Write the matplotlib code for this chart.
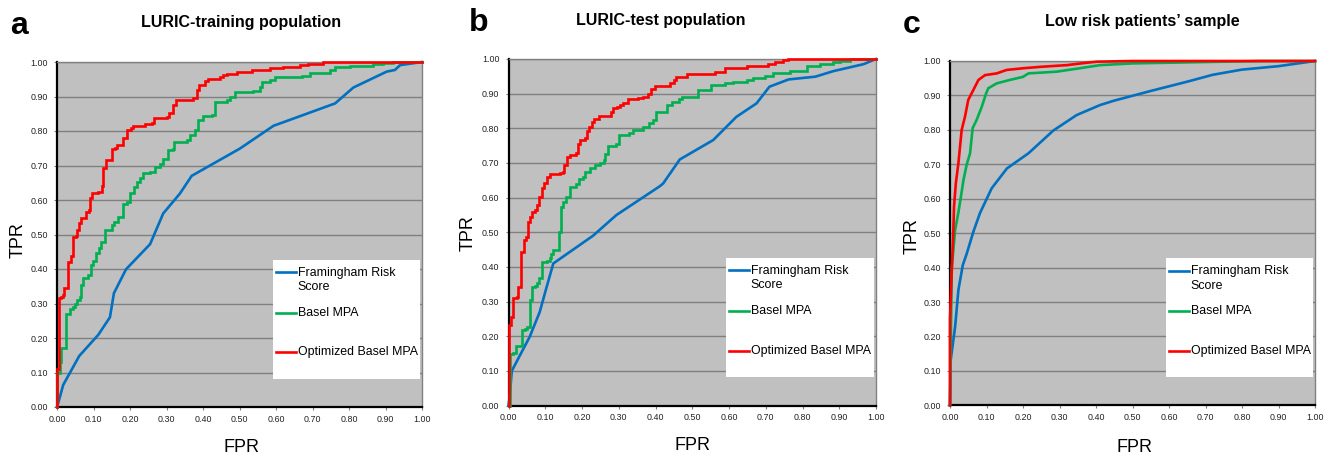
import matplotlib
matplotlib.use('Agg')
import matplotlib.pyplot as plt
from matplotlib.patches import Rectangle

plt.rcParams['font.family'] = ['Liberation Sans', 'DejaVu Sans']

# ---------------- data ----------------
panel_letters = ['a', 'b', 'c']
panel_titles = ['LURIC-training population', 'LURIC-test population',
                'Low risk patients\u2019 sample']
series_names = ['Framingham Risk\nScore', 'Basel MPA', 'Optimized Basel MPA']
series_colors = ['#0070C0', '#00B050', '#FF0000']
tick_values = [0.0, 0.1, 0.2, 0.3, 0.4, 0.5, 0.6, 0.7, 0.8, 0.9, 1.0]
tick_labels = ['0.00', '0.10', '0.20', '0.30', '0.40', '0.50',
               '0.60', '0.70', '0.80', '0.90', '1.00']

# Panel a: LURIC-training
a_fram_fpr = [0, 0.003, 0.017, 0.061, 0.113, 0.145, 0.156, 0.189, 0.255, 0.291,
              0.337, 0.369, 0.501, 0.593, 0.762, 0.812, 0.903, 0.926, 0.94, 1.0]
a_fram_tpr = [0, 0.01, 0.064, 0.148, 0.209, 0.26, 0.33, 0.399, 0.472, 0.561,
              0.619, 0.67, 0.749, 0.815, 0.88, 0.926, 0.972, 0.977, 0.991, 1.0]
a_basel_fpr = [0, 0, 0.008, 0.011, 0.024, 0.036, 0.043, 0.049, 0.055, 0.063, 0.066,
               0.072, 0.084, 0.093, 0.098, 0.108, 0.116, 0.12, 0.131, 0.15, 0.156,
               0.168, 0.18, 0.193, 0.2, 0.212, 0.218, 0.227, 0.236, 0.255, 0.268,
               0.282, 0.291, 0.305, 0.318, 0.321, 0.355, 0.364, 0.378, 0.387, 0.401,
               0.424, 0.433, 0.465, 0.474, 0.488, 0.537, 0.556, 0.562, 0.584, 0.597,
               0.67, 0.693, 0.748, 0.762, 0.803, 0.866, 0.894, 0.92, 1.0]
a_basel_tpr = [0, 0.10, 0.13, 0.17, 0.27, 0.285, 0.29, 0.30, 0.31, 0.318, 0.355,
               0.373, 0.383, 0.412, 0.424, 0.446, 0.46, 0.477, 0.513, 0.528, 0.537,
               0.552, 0.588, 0.594, 0.619, 0.638, 0.653, 0.664, 0.677, 0.68, 0.696,
               0.705, 0.72, 0.745, 0.749, 0.769, 0.774, 0.788, 0.803, 0.832, 0.843,
               0.846, 0.885, 0.89, 0.899, 0.914, 0.917, 0.927, 0.943, 0.948, 0.957,
               0.96, 0.968, 0.977, 0.985, 0.987, 0.993, 0.998, 1.0, 1.0]
a_opt_fpr = [0, 0, 0.005, 0.011, 0.016, 0.018, 0.029, 0.030, 0.038, 0.044, 0.052,
             0.054, 0.061, 0.066, 0.079, 0.088, 0.09, 0.096, 0.113, 0.122, 0.127,
             0.133, 0.150, 0.151, 0.159, 0.165, 0.18, 0.182, 0.193, 0.202, 0.207,
             0.241, 0.259, 0.265, 0.3, 0.308, 0.317, 0.326, 0.373, 0.383, 0.39,
             0.405, 0.414, 0.447, 0.456, 0.465, 0.493, 0.534, 0.584, 0.62, 0.666,
             0.688, 0.73, 1.0]
a_opt_tpr = [0, 0.11, 0.315, 0.32, 0.326, 0.344, 0.349, 0.421, 0.438, 0.492, 0.496,
             0.513, 0.532, 0.547, 0.566, 0.571, 0.605, 0.619, 0.624, 0.641, 0.692,
             0.716, 0.724, 0.747, 0.752, 0.759, 0.762, 0.779, 0.803, 0.808, 0.815,
             0.82, 0.824, 0.837, 0.84, 0.851, 0.875, 0.89, 0.897, 0.919, 0.933,
             0.946, 0.95, 0.956, 0.961, 0.965, 0.97, 0.977, 0.982, 0.986, 0.99,
             0.995, 1.0, 1.0]

# Panel b: LURIC-test
b_fram_fpr = [0, 0.004, 0.009, 0.058, 0.085, 0.104, 0.122, 0.23, 0.294, 0.412,
              0.421, 0.466, 0.557, 0.62, 0.675, 0.71, 0.762, 0.835, 0.884, 0.966, 1.0]
b_fram_tpr = [0, 0.035, 0.10, 0.199, 0.27, 0.343, 0.41, 0.49, 0.55, 0.633,
              0.641, 0.71, 0.766, 0.833, 0.872, 0.92, 0.941, 0.949, 0.965, 0.985, 1.0]
b_basel_fpr = [0, 0.004, 0.011, 0.020, 0.037, 0.045, 0.049, 0.058, 0.065, 0.072,
               0.078, 0.084, 0.092, 0.104, 0.113, 0.117, 0.122, 0.138, 0.142, 0.149,
               0.156, 0.167, 0.185, 0.192, 0.204, 0.208, 0.222, 0.236, 0.25, 0.259,
               0.263, 0.272, 0.292, 0.3, 0.327, 0.34, 0.367, 0.381, 0.394, 0.402,
               0.431, 0.444, 0.463, 0.472, 0.517, 0.552, 0.59, 0.61, 0.648, 0.666,
               0.698, 0.72, 0.766, 0.812, 0.848, 0.884, 0.902, 0.93, 1.0]
b_basel_tpr = [0, 0.149, 0.152, 0.172, 0.218, 0.221, 0.226, 0.304, 0.341, 0.345,
               0.353, 0.369, 0.413, 0.418, 0.425, 0.437, 0.449, 0.50, 0.574, 0.588,
               0.603, 0.631, 0.639, 0.653, 0.66, 0.675, 0.684, 0.694, 0.699, 0.708,
               0.726, 0.749, 0.755, 0.781, 0.785, 0.795, 0.803, 0.814, 0.824, 0.848,
               0.867, 0.877, 0.885, 0.891, 0.910, 0.925, 0.93, 0.934, 0.939, 0.946,
               0.951, 0.960, 0.966, 0.981, 0.987, 0.992, 0.995, 1.0, 1.0]
b_opt_fpr = [0, 0, 0.006, 0.013, 0.024, 0.027, 0.034, 0.041, 0.048, 0.052, 0.058,
             0.065, 0.072, 0.078, 0.084, 0.09, 0.097, 0.104, 0.113, 0.14, 0.149,
             0.152, 0.158, 0.167, 0.185, 0.188, 0.195, 0.208, 0.213, 0.22, 0.226,
             0.233, 0.245, 0.278, 0.285, 0.294, 0.303, 0.311, 0.326, 0.353, 0.367,
             0.38, 0.389, 0.398, 0.44, 0.451, 0.456, 0.486, 0.562, 0.59, 0.648,
             0.707, 0.725, 0.748, 0.76, 1.0]
b_opt_tpr = [0, 0.233, 0.255, 0.309, 0.314, 0.343, 0.444, 0.478, 0.485, 0.53, 0.545,
             0.559, 0.564, 0.579, 0.603, 0.627, 0.643, 0.66, 0.668, 0.67, 0.675,
             0.694, 0.716, 0.723, 0.728, 0.754, 0.766, 0.771, 0.793, 0.805, 0.819,
             0.826, 0.835, 0.848, 0.858, 0.862, 0.867, 0.874, 0.884, 0.887, 0.891,
             0.898, 0.912, 0.922, 0.932, 0.939, 0.949, 0.957, 0.963, 0.973, 0.981,
             0.987, 0.992, 0.997, 1.0, 1.0]

# Panel c: low risk patients
c_fram_fpr = [0, 0.002, 0.014, 0.023, 0.035, 0.046, 0.064, 0.082, 0.114, 0.156,
              0.215, 0.283, 0.347, 0.411, 0.45, 0.55, 0.65, 0.72, 0.8, 0.9, 1.0]
c_fram_tpr = [0, 0.132, 0.228, 0.335, 0.407, 0.441, 0.504, 0.558, 0.63, 0.688,
              0.732, 0.798, 0.843, 0.872, 0.885, 0.913, 0.94, 0.96, 0.975, 0.985, 1.0]
c_basel_fpr = [0, 0.003, 0.005, 0.014, 0.023, 0.032, 0.037, 0.046, 0.055, 0.062,
               0.073, 0.087, 0.099, 0.105, 0.128, 0.164, 0.2, 0.215, 0.292, 0.356,
               0.411, 0.5, 0.7, 0.85, 1.0]
c_basel_tpr = [0, 0.25, 0.40, 0.509, 0.56, 0.62, 0.655, 0.70, 0.732, 0.805,
               0.829, 0.867, 0.906, 0.921, 0.935, 0.945, 0.954, 0.964, 0.969, 0.979,
               0.988, 0.993, 0.997, 1.0, 1.0]
c_opt_fpr = [0, 0, 0.005, 0.009, 0.011, 0.016, 0.023, 0.032, 0.041, 0.05, 0.064,
             0.078, 0.096, 0.128, 0.155, 0.201, 0.247, 0.32, 0.375, 0.402, 0.5, 1.0]
c_opt_tpr = [0, 0.25, 0.40, 0.50, 0.577, 0.645, 0.703, 0.80, 0.838, 0.887, 0.916,
             0.945, 0.959, 0.964, 0.974, 0.979, 0.983, 0.988, 0.995, 0.998, 1.0, 1.0]

panels = [
    [(a_fram_fpr, a_fram_tpr, 'line'), (a_basel_fpr, a_basel_tpr, 'step'),
     (a_opt_fpr, a_opt_tpr, 'step')],
    [(b_fram_fpr, b_fram_tpr, 'line'), (b_basel_fpr, b_basel_tpr, 'step'),
     (b_opt_fpr, b_opt_tpr, 'step')],
    [(c_fram_fpr, c_fram_tpr, 'line'), (c_basel_fpr, c_basel_tpr, 'line'),
     (c_opt_fpr, c_opt_tpr, 'line')],
]

# ---------------- layout ----------------
W, H = 1330, 459
fig = plt.figure(figsize=(W / 100, H / 100), dpi=100)

# axes boxes in pixels: left, right, top, bottom
axes_px = [(57, 422, 62, 407), (508.5, 876, 59, 405.5), (950, 1315, 61, 405.3)]
letter_pos = [(10, 34), (469, 31), (903, 33)]
title_pos = [(241, 27), (661, 25), (1142, 26)]
tpr_pos = [(18, 240), (468.5, 233), (912, 236)]
fpr_pos = [(241, 448), (692, 446), (1134, 447.5)]

GRID = '#808080'

for i in range(3):
    l, r, t, b = axes_px[i]
    ax = fig.add_axes([l / W, 1 - b / H, (r - l) / W, (b - t) / H])
    ax.set_facecolor('#C0C0C0')
    ax.set_xlim(0, 1)
    ax.set_ylim(0, 1)
    ax.set_xticks(tick_values)
    ax.set_yticks(tick_values)
    ax.set_xticklabels(tick_labels)
    ax.set_yticklabels(tick_labels)
    ax.tick_params(axis='both', labelsize=6.4, labelcolor='#222222',
                   length=2.5, width=0.8, color=GRID, direction='out')
    ax.tick_params(axis='y', pad=4)
    ax.tick_params(axis='x', pad=3)
    ax.yaxis.grid(True, color=GRID, linewidth=1.0)
    ax.xaxis.grid(False)
    ax.set_axisbelow(True)
    for side in ['top', 'right']:
        ax.spines[side].set_color(GRID)
        ax.spines[side].set_linewidth(1.0)
    for side in ['left', 'bottom']:
        ax.spines[side].set_color('black')
        ax.spines[side].set_linewidth(1.6)

    for k, (xs, ys, kind) in enumerate(panels[i]):
        ax.plot(xs, ys, color=series_colors[k], lw=1.9,
                drawstyle='steps-post' if kind == 'step' else 'default',
                zorder=3 + k, clip_on=False, solid_joinstyle='miter')

    # legend box (Excel-like)
    ax.add_patch(Rectangle((0.592, 0.082), 0.403, 0.345, transform=ax.transAxes,
                           facecolor='white', edgecolor='none', zorder=10))
    handle_y = [0.390, 0.273, 0.158]
    text_y = [0.368, 0.273, 0.158]
    for k in range(3):
        ax.plot([0.599, 0.654], [handle_y[k], handle_y[k]], transform=ax.transAxes,
                color=series_colors[k], lw=1.9, zorder=11, clip_on=False)
        ax.text(0.659, text_y[k], series_names[k], transform=ax.transAxes,
                fontsize=8.9, va='center', ha='left', color='black', zorder=12,
                linespacing=1.3)

    fig.text(letter_pos[i][0] / W, 1 - letter_pos[i][1] / H, panel_letters[i],
             fontsize=23, fontweight='bold', ha='left', va='baseline')
    fig.text(title_pos[i][0] / W, 1 - title_pos[i][1] / H, panel_titles[i],
             fontsize=11.5, fontweight='bold', ha='center', va='baseline')
    fig.text(tpr_pos[i][0] / W, 1 - tpr_pos[i][1] / H, 'TPR', fontsize=13,
             rotation=90, ha='center', va='center')
    fig.text(fpr_pos[i][0] / W, 1 - fpr_pos[i][1] / H, 'FPR', fontsize=13,
             ha='center', va='center')

fig.savefig('out.png', dpi=100, facecolor='white')
